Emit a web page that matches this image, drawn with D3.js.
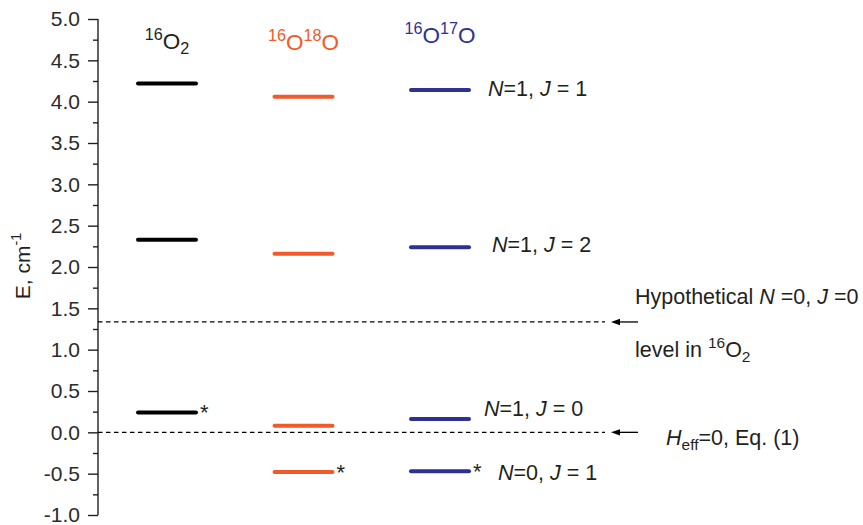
<!DOCTYPE html>
<html>
<head>
<meta charset="utf-8">
<script src="https://cdn.jsdelivr.net/npm/d3@7/dist/d3.min.js"></script>
<style>
  html, body { margin: 0; padding: 0; background: #fff; }
  svg { display: block; font-family: "Liberation Sans", Arial, sans-serif; }
</style>
</head>
<body>
<svg id="chart" width="863" height="525"></svg>
<script>
// Isotopologues, one column of levels each
const species = ["16O2", "16O18O", "16O17O"];
const speciesColors = ["#000000", "#f15a29", "#2e3192"];

// Level energies, cm^-1 (null = no such level drawn)
const levelN1J1 = [4.22, 4.06, 4.14];
const levelN1J2 = [2.33, 2.16, 2.24];
const levelN1J0 = [0.24, 0.08, 0.16];
const levelN0J1 = [null, -0.48, -0.47];

// Ground state of each isotopologue (marked with an asterisk)
const groundState = [0.24, -0.48, -0.47];

// Reference levels drawn as dashed lines
const hypotheticalLevel = 1.335;
const heffZero = 0;

// Axis ticks
const majorTicks = [-1, -0.5, 0, 0.5, 1, 1.5, 2, 2.5, 3, 3.5, 4, 4.5, 5];
const minorTicks = [-0.75, -0.25, 0.25, 0.75, 1.25, 1.75, 2.25, 2.75, 3.25, 3.75, 4.25, 4.75];

const svg = d3.select("#chart");

const y = d3.scaleLinear().domain([-1, 5]).range([515, 19]);
const x = d3.scalePoint().domain(species).range([167, 440]);
const axisX = 98;
const halfLen = 29;

// Rich text helper: parts are [text, kind] with kind in n | i | sup | sub
function rich(g, px, py, size, parts, opts = {}) {
  const t = g.append("text")
    .attr("x", px).attr("y", py)
    .attr("font-size", size)
    .attr("fill", opts.fill || "#231f20")
    .attr("text-anchor", opts.anchor || "start");
  let shift = 0;
  const ratio = opts.ratio || 0.68;
  parts.forEach(([s, kind]) => {
    const ts = t.append("tspan").text(s);
    let target = 0, fs = size;
    if (kind === "sup") { target = -size * 0.42; fs = size * ratio; }
    if (kind === "sub") { target = size * 0.22; fs = size * ratio; }
    if (kind === "i") ts.attr("font-style", "italic");
    ts.attr("font-size", fs);
    if (target !== shift) { ts.attr("dy", target - shift); shift = target; }
  });
  return t;
}

// Y axis: major ticks with labels, minor ticks without
const gAxis = svg.append("g").attr("transform", `translate(${axisX},0)`);
gAxis.call(d3.axisLeft(y).tickValues(majorTicks).tickSize(10).tickPadding(8)
  .tickFormat(d => d.toFixed(1)));
gAxis.append("g").call(d3.axisLeft(y).tickValues(minorTicks).tickSize(5).tickFormat(""))
  .select(".domain").remove();
gAxis.selectAll(".domain").attr("stroke", "#231f20").attr("stroke-width", 1.4).attr("d", `M0,${y(-1)}V${y(5)}`);
gAxis.selectAll(".tick line").attr("stroke", "#231f20").attr("stroke-width", 1.4);
gAxis.selectAll(".tick text").attr("font-size", 21).attr("fill", "#2b2b2b")
  .attr("font-family", "'Liberation Sans', Arial, sans-serif");

// Axis title
rich(svg.append("g").attr("transform", "translate(30,266) rotate(-90)"), 0, 0, 21,
  [["E, cm", "n"], ["-1", "sup"]], { anchor: "middle" });

// Dashed reference lines with arrows
const refs = [hypotheticalLevel, heffZero];
refs.forEach(v => {
  svg.append("line")
    .attr("x1", axisX).attr("x2", 605)
    .attr("y1", y(v)).attr("y2", y(v))
    .attr("stroke", "#000").attr("stroke-width", 1.2)
    .attr("stroke-dasharray", "4.5,3.5");
  svg.append("line")
    .attr("x1", 616).attr("x2", 638)
    .attr("y1", y(v)).attr("y2", y(v))
    .attr("stroke", "#000").attr("stroke-width", 1.3);
  svg.append("path")
    .attr("d", `M611,${y(v)}L620,${y(v) - 3.2}L620,${y(v) + 3.2}Z`)
    .attr("fill", "#000");
});

// Energy levels
const levelSets = [levelN1J1, levelN1J2, levelN1J0, levelN0J1];
levelSets.forEach(set => {
  set.forEach((v, i) => {
    if (v === null) return;
    const cx = x(species[i]);
    svg.append("line")
      .attr("x1", cx - halfLen).attr("x2", cx + halfLen)
      .attr("y1", y(v)).attr("y2", y(v))
      .attr("stroke", speciesColors[i])
      .attr("stroke-width", 4)
      .attr("stroke-linecap", "round");
  });
});

// Asterisks at ground states
groundState.forEach((v, i) => {
  svg.append("text")
    .attr("x", x(species[i]) + halfLen + 4)
    .attr("y", y(v) + 8)
    .attr("font-size", 22)
    .attr("fill", "#231f20")
    .text("*");
});

// Column headers
const headerParts = [
  [["16", "sup"], ["O", "n"], ["2", "sub"]],
  [["16", "sup"], ["O", "n"], ["18", "sup"], ["O", "n"]],
  [["16", "sup"], ["O", "n"], ["17", "sup"], ["O", "n"]]
];
const headerDy = [49, 50, 43];
species.forEach((s, i) => {
  rich(svg, x(s), headerDy[i], 22.5, headerParts[i],
    { anchor: "middle", fill: i === 0 ? "#231f20" : speciesColors[i], ratio: 0.72 });
});

// Level annotations
const blue = 2;
const notes = [
  { v: levelN1J1[blue], x: 488, dy: 6, parts: [["N", "i"], ["=1, ", "n"], ["J", "i"], [" = 1", "n"]] },
  { v: levelN1J2[blue], x: 492, dy: 5, parts: [["N", "i"], ["=1, ", "n"], ["J", "i"], [" = 2", "n"]] },
  { v: levelN1J0[blue], x: 484, dy: -3, parts: [["N", "i"], ["=1, ", "n"], ["J", "i"], [" = 0", "n"]] },
  { v: levelN0J1[blue], x: 498, dy: 9, parts: [["N", "i"], ["=0, ", "n"], ["J", "i"], [" = 1", "n"]] },
  { v: hypotheticalLevel, x: 635, dy: -18, parts: [["Hypothetical ", "n"], ["N", "i"], [" =0, ", "n"], ["J", "i"], [" =0", "n"]] },
  { v: hypotheticalLevel, x: 635, dy: 35, parts: [["level in ", "n"], ["16", "sup"], ["O", "n"], ["2", "sub"]] },
  { v: heffZero, x: 666, dy: 13, parts: [["H", "i"], ["eff", "sub"], ["=0, Eq. (1)", "n"]] }
];
notes.forEach(n => rich(svg, n.x, y(n.v) + n.dy, 21.5, n.parts, { ratio: 0.72 }));
</script>
</body>
</html>
